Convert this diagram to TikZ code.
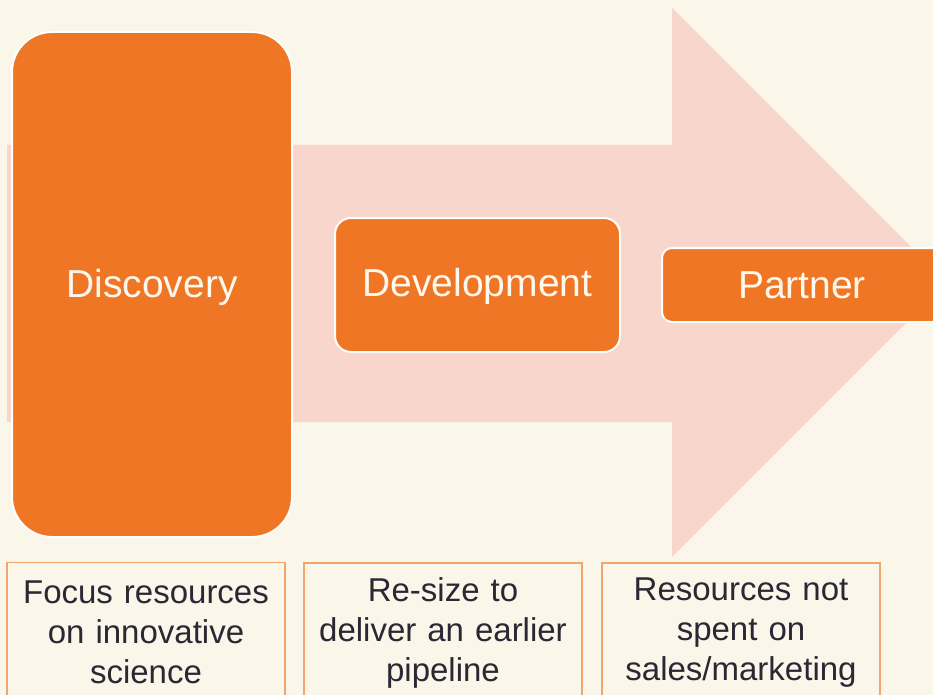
\documentclass[tikz,border=0pt]{standalone}
\usepackage{fontspec}
\setmainfont{Liberation Sans}
\definecolor{bgc}{HTML}{FAF6E9}
\definecolor{pinkc}{HTML}{F8D6CC}
\definecolor{orangec}{HTML}{EF7624}
\definecolor{edgec}{HTML}{F0A66C}
\definecolor{txtc}{HTML}{2B2733}
\definecolor{wtxt}{HTML}{FFF8EE}
\tikzset{
  stage/.style={draw=white, line width=2pt, fill=orangec, text=wtxt, font=\fontsize{39}{44}\selectfont, inner sep=0pt},
  note/.style={draw=edgec, line width=1.2pt, fill=bgc, text=txtc, font=\fontsize{33}{40}\selectfont, align=center, inner sep=0pt, minimum width=278pt, minimum height=140pt, text width=270pt}
}
\begin{document}
\begin{tikzpicture}[x=1pt,y=-1pt]
\useasboundingbox (0,0) rectangle (933,695);
\clip (0,0) rectangle (933,695);
\fill[bgc] (0,0) rectangle (933,695);
\fill[pinkc] (7,145) -- (672,145) -- (672,8) -- (946.5,282.5) -- (672,557) -- (672,422) -- (7,422) -- cycle;
\node[stage, minimum width=280pt, minimum height=505pt, rounded corners=40pt, text height=34pt, text depth=8.2pt] (disc) at (152,284.5) {Discovery};
\node[stage, minimum width=285pt, minimum height=134pt, rounded corners=16pt, text height=32pt, text depth=8.2pt] (dev) at (477.5,285) {Development};
\node[stage, minimum width=280pt, minimum height=74pt, rounded corners=10pt, text height=28pt, text depth=2pt] (part) at (802,285) {Partner};
\node[note] (n1) at (146,632.5) {Focus resources\\on innovative\\science};
\node[note] (n2) at (443,633) {Re-size to\\deliver an earlier\\pipeline};
\node[note] (n3) at (741,633) {Resources not\\spent on\\sales/marketing};
\end{tikzpicture}
\end{document}
